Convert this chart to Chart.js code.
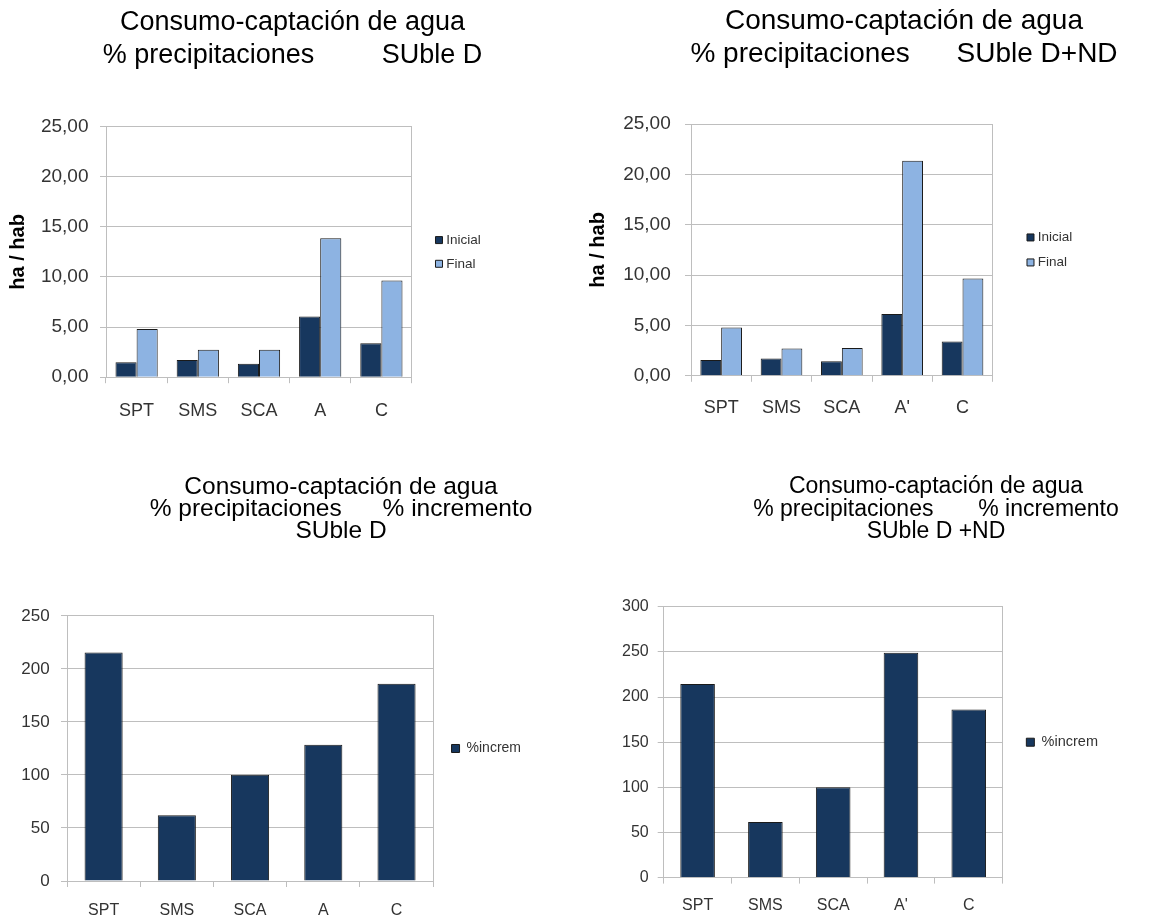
<!DOCTYPE html>
<html><head><meta charset="utf-8">
<script src="https://cdn.jsdelivr.net/npm/chart.js@4.4.1/dist/chart.umd.min.js"></script>
<style>
html,body{margin:0;padding:0;background:#fff;width:1156px;height:921px;overflow:hidden;position:relative}
canvas{position:absolute}
</style></head><body>
<canvas id="c1"></canvas>
<canvas id="c2"></canvas>
<canvas id="c3"></canvas>
<canvas id="c4"></canvas>
<script>
// ---------- data ----------
const categoriesD   = ['SPT', 'SMS', 'SCA', 'A', 'C'];
const categoriesDND = ['SPT', 'SMS', 'SCA', "A'", 'C'];

const inicialD   = [1.48, 1.72, 1.35, 6.05, 3.39];
const finalD     = [4.80, 2.73, 2.73, 13.87, 9.64];
const inicialDND = [1.58, 1.72, 1.45, 6.15, 3.41];
const finalDND   = [4.80, 2.72, 2.75, 21.35, 9.67];

const incremD   = [215.5, 62, 100.3, 128.6, 186.1];
const incremDND = [214.5, 61.5, 100.1, 249, 186.2];

const yTicksHab        = ['0,00', '5,00', '10,00', '15,00', '20,00', '25,00'];
const yTicksIncremD    = ['0', '50', '100', '150', '200', '250'];
const yTicksIncremDND  = ['0', '50', '100', '150', '200', '250', '300'];

const title1 = ['Consumo-captación de agua', '% precipitaciones         SUble D'];
const title2 = ['Consumo-captación de agua', '% precipitaciones      SUble D+ND'];
const title3 = ['Consumo-captación de agua', '% precipitaciones      % incremento', 'SUble D'];
const title4 = ['Consumo-captación de agua', '% precipitaciones       % incremento', 'SUble D +ND'];

const yAxisTitle = 'ha / hab';
const seriesNames = ['Inicial', 'Final', '%increm'];

// ---------- styles ----------
const FONT = "'Liberation Sans', Arial, Helvetica, sans-serif";
const DARK = '#17375E';
const LIGHT = '#8DB3E2';
const EDGE = '#1a1a1a';
const GRID = '#BEBEBE';
const TXT = '#333333';

function makeChart(id, L, labels, datasets, yTickLabels, yMax, yStep, titleLines) {
  const cv = document.getElementById(id);
  cv.width = L.W; cv.height = L.H;
  cv.style.left = L.left + 'px'; cv.style.top = L.top + 'px';
  cv.style.width = L.W + 'px'; cv.style.height = L.H + 'px';
  return new Chart(cv, {
    type: 'bar',
    data: { labels: labels, datasets: datasets },
    options: {
      responsive: false,
      animation: false,
      devicePixelRatio: 1,
      layout: { padding: 0 },
      datasets: { bar: { categoryPercentage: L.catPct, barPercentage: 1.0 } },
      plugins: {
        tooltip: { enabled: false },
        title: {
          display: true,
          text: titleLines,
          color: '#000',
          font: { family: FONT, size: L.titleSize, weight: 'normal', lineHeight: L.titleLH },
          padding: { top: L.titlePT, bottom: L.titlePB }
        },
        legend: {
          display: true,
          position: 'right',
          align: 'center',
          fullSize: false,
          maxWidth: 400,
          labels: {
            color: TXT,
            usePointStyle: L.pointBox,
            pointStyle: 'rect',
            boxWidth: L.pointBox ? 1 : L.box,
            boxHeight: L.box,
            padding: L.legPad,
            font: { family: FONT, size: L.legSize }
          }
        }
      },
      scales: {
        x: {
          grid: { display: true, drawOnChartArea: false, drawTicks: true, tickLength: 6, color: GRID, tickColor: GRID, offset: true },
          border: { display: true, color: GRID, width: 1 },
          ticks: { color: TXT, padding: L.xPad, font: { family: FONT, size: L.xSize } }
        },
        y: {
          min: 0, max: yMax,
          afterFit: s => { s.width = L.yWidth; },
          grid: { display: true, drawOnChartArea: true, drawTicks: true, tickLength: 6, color: GRID, tickColor: GRID },
          border: { display: true, color: GRID, width: 1 },
          ticks: {
            stepSize: yStep, color: TXT, padding: L.yPad,
            font: { family: FONT, size: L.ySize },
            callback: (v, i) => yTickLabels[i]
          },
          title: L.yTitle ? {
            display: true, text: L.yTitle, color: '#000',
            font: { family: FONT, size: 20, weight: 'bold', lineHeight: 1.2 },
            padding: { top: L.yTitlePT, bottom: 0 }
          } : { display: false }
        },
        yRightBorder: {
          type: 'linear', position: 'right', weight: 0,
          grid: { display: false, drawTicks: false },
          border: { display: true, color: GRID, width: 1 },
          ticks: { display: false },
          afterFit: s => { s.width = L.gapR; }
        },
        ySpacer: {
          type: 'linear', position: 'right', weight: 2000,
          grid: { display: false, drawTicks: false },
          border: { display: false },
          ticks: { display: false },
          afterFit: s => { s.width = L.spacer; }
        }
      }
    }
  });
}

Chart.defaults.font.family = FONT;

// top-left
makeChart('c1',
  { left: 0, top: 0, W: 585, H: 438, catPct: 0.69,
    titleSize: 27, titleLH: 1.22, titlePT: 5.8, titlePB: 55,
    yTitle: yAxisTitle, yTitlePT: 6, yWidth: 106, yPad: 11.5, ySize: 19,
    xPad: 16.6, xSize: 18, legSize: 13.5, legPad: 10.2, box: 7, pointBox: true,
    gapR: 16.3, spacer: 94.25 },
  categoriesD,
  [
    { label: seriesNames[0], data: inicialD, backgroundColor: DARK, borderColor: EDGE, borderWidth: 1 },
    { label: seriesNames[1], data: finalD, backgroundColor: LIGHT, borderColor: EDGE, borderWidth: 1 }
  ],
  yTicksHab, 25, 5, title1);

// top-right
makeChart('c2',
  { left: 580, top: 0, W: 648, H: 435, catPct: 0.69,
    titleSize: 28, titleLH: 1.18, titlePT: 5.2, titlePB: 52.8,
    yTitle: yAxisTitle, yTitlePT: 6, yWidth: 111, yPad: 14.3, ySize: 19,
    xPad: 15.8, xSize: 18, legSize: 13.5, legPad: 11.5, box: 7, pointBox: true,
    gapR: 25.8, spacer: 145.75 },
  categoriesDND,
  [
    { label: seriesNames[0], data: inicialDND, backgroundColor: DARK, borderColor: EDGE, borderWidth: 1 },
    { label: seriesNames[1], data: finalDND, backgroundColor: LIGHT, borderColor: EDGE, borderWidth: 1 }
  ],
  yTicksHab, 25, 5, title2);

// bottom-left
makeChart('c3',
  { left: 10, top: 460, W: 662, H: 475, catPct: 0.52,
    titleSize: 24.5, titleLH: 0.91, titlePT: 15.7, titlePB: 73.4,
    yTitle: null, yWidth: 57, yPad: 11.3, ySize: 17,
    xPad: 14.4, xSize: 16, legSize: 14, legPad: 10, box: 8, pointBox: false,
    gapR: 8.4, spacer: 141 },
  categoriesD,
  [
    { label: seriesNames[2], data: incremD, backgroundColor: DARK, borderColor: EDGE, borderWidth: 1 }
  ],
  yTicksIncremD, 250, 50, title3);

// bottom-right
makeChart('c4',
  { left: 613, top: 460, W: 646, H: 467, catPct: 0.51,
    titleSize: 23, titleLH: 0.98, titlePT: 15.75, titlePB: 63.45,
    yTitle: null, yWidth: 50.7, yPad: 9, ySize: 16,
    xPad: 12.1, xSize: 16, legSize: 14.5, legPad: 10, box: 8, pointBox: false,
    gapR: 13.7, spacer: 151 },
  categoriesDND,
  [
    { label: seriesNames[2], data: incremDND, backgroundColor: DARK, borderColor: EDGE, borderWidth: 1 }
  ],
  yTicksIncremDND, 300, 50, title4);
</script>
</body></html>
